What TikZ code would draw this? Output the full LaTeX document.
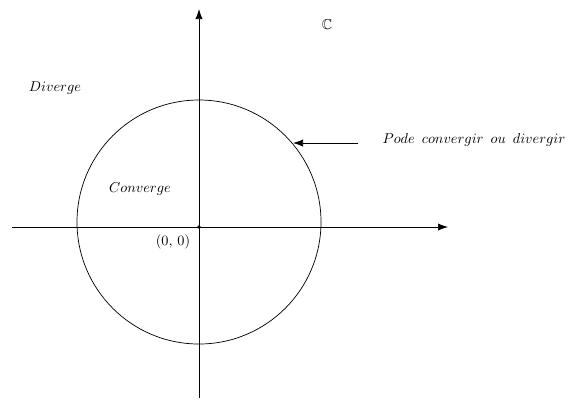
\documentclass[tikz,border=0pt]{standalone}
\usepackage{amssymb}
\usetikzlibrary{arrows.meta}
\tikzset{
  axis/.style={line width=0.5pt,-{Latex[length=7pt,width=5pt]}},
  lbl/.style={inner sep=0pt, font=\normalsize},
}
\begin{document}
\begin{tikzpicture}[x=0.7pt,y=-0.7pt]
\useasboundingbox (0,0) rectangle (575,399);
\coordinate (O) at (199,227);
\coordinate (xl) at (12,227);
\coordinate (xr) at (448,227);
\coordinate (yb) at (199,398);
\coordinate (yt) at (199,9);
\draw[axis] (xl) -- (xr);
\draw[axis] (yb) -- (yt);
\draw[line width=0.5pt] (199,222) circle (122);
\fill (O) circle (1.3pt);
\node[lbl] (C) at (327,25) {$\mathbb{C}$};
\node[lbl] (div) at (55,88) {$Diverge$};
\node[lbl] (conv) at (140,189) {$Converge$};
\node[lbl] (orig) at (173,242) {$(0,\,0)$};
\node[lbl] (pode) at (474,140) {$Pode\ \,convergir\ \,ou\ \,divergir$};
\coordinate (tip) at (293,143);
\coordinate (tail) at (358,143);
\draw[axis] (tail) -- (tip);
\end{tikzpicture}
\end{document}
